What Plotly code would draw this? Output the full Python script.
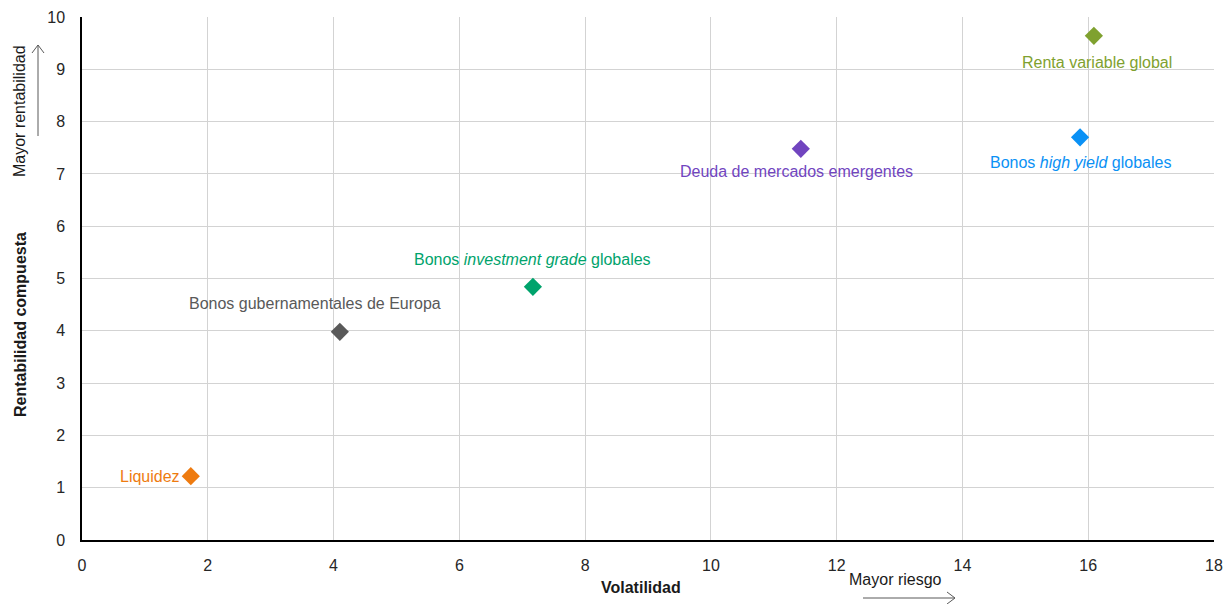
import plotly.graph_objects as go

# Asset classes: volatility (x) vs compound return (y)
activos = [
    "Liquidez",
    "Bonos gubernamentales de Europa",
    "Bonos <i>investment grade</i> globales",
    "Deuda de mercados emergentes",
    "Bonos <i>high yield</i> globales",
    "Renta variable global",
]
volatilidad = [1.73, 4.10, 7.17, 11.43, 15.87, 16.09]
rentabilidad = [1.22, 3.98, 4.84, 7.48, 7.70, 9.64]

x_ticks = [0, 2, 4, 6, 8, 10, 12, 14, 16, 18]
y_ticks = [0, 1, 2, 3, 4, 5, 6, 7, 8, 9, 10]

colores = ["#EE7B10", "#595959", "#00A36C", "#7145BF", "#0A91F5", "#7FA12F"]
# label placement relative to each marker (anchor, shift in px)
etiquetas = [
    dict(xanchor="right", xshift=-9, yshift=0),
    dict(xanchor="center", xshift=-25, yshift=28),
    dict(xanchor="center", xshift=0, yshift=27),
    dict(xanchor="center", xshift=-4, yshift=-23),
    dict(xanchor="center", xshift=0, yshift=-25),
    dict(xanchor="center", xshift=3, yshift=-27),
]

FONT = "Arial, Liberation Sans, sans-serif"
FS = 16

fig = go.Figure()
fig.add_trace(go.Scatter(
    x=volatilidad, y=rentabilidad, mode="markers",
    marker=dict(symbol="diamond", size=14, color=colores, line=dict(width=0)),
    hovertext=activos, showlegend=False, cliponaxis=False,
))

for nombre, vx, vy, col, pos in zip(activos, volatilidad, rentabilidad, colores, etiquetas):
    fig.add_annotation(
        x=vx, y=vy, text=nombre, showarrow=False, yanchor="middle",
        font=dict(family=FONT, size=FS, color=col), **pos,
    )

W, H = 1224, 604
L, R, T, B = 82, 10, 17, 64
pw, ph = W - L - R, H - T - B


def px(xp):
    return (xp - L) / pw


def py(yp):
    return (H - B - yp) / ph


def texto(xp, yp, s, angle=0):
    fig.add_annotation(x=px(xp), y=py(yp), xref="paper", yref="paper", text=s,
                       showarrow=False, textangle=angle, xanchor="center", yanchor="middle",
                       font=dict(family=FONT, size=FS, color="#1A1A1A"))


# axis titles and guide captions
texto(641, 587, "<b>Volatilidad</b>")
texto(20, 325, "<b>Rentabilidad compuesta</b>", -90)
texto(20, 111, "Mayor rentabilidad", -90)
texto(895, 579, "Mayor riesgo")

# guide arrows
flecha = dict(color="#595959", width=1)
fig.add_shape(type="path", xref="paper", yref="paper", line=flecha,
              path=f"M {px(38)} {py(136)} L {px(38)} {py(45)} M {px(32)} {py(53)} L {px(38)} {py(45)} L {px(44)} {py(53)}")
fig.add_shape(type="path", xref="paper", yref="paper", line=flecha,
              path=f"M {px(863)} {py(598)} L {px(955)} {py(598)} M {px(947)} {py(592)} L {px(955)} {py(598)} L {px(947)} {py(604)}")

fig.update_xaxes(range=[0, 18], tickvals=x_ticks, showgrid=True, gridcolor="#D3D3D3", gridwidth=1,
                 showline=True, linecolor="#000000", linewidth=1.5, zeroline=False,
                 ticks="", ticklabelstandoff=10, automargin=False,
                 tickfont=dict(family=FONT, size=FS, color="#262626"))
fig.update_yaxes(range=[0, 10], tickvals=y_ticks, showgrid=True, gridcolor="#D3D3D3", gridwidth=1,
                 showline=True, linecolor="#000000", linewidth=1.5, zeroline=False,
                 ticks="", ticklabelstandoff=12, automargin=False,
                 tickfont=dict(family=FONT, size=FS, color="#262626"))

fig.update_layout(
    width=W, height=H, margin=dict(l=L, r=R, t=T, b=B),
    plot_bgcolor="white", paper_bgcolor="white",
    font=dict(family=FONT),
)

fig.write_html("out.html")
